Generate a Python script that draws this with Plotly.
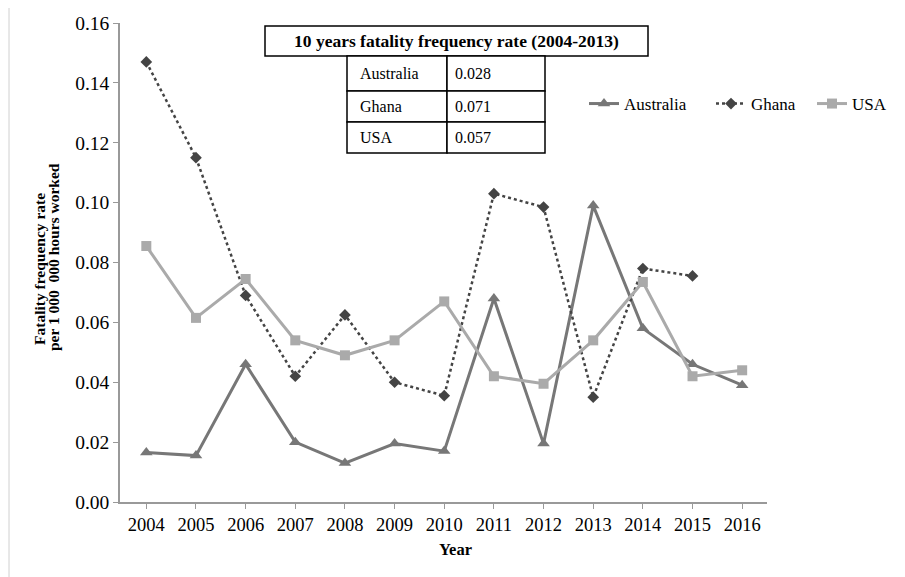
import plotly.graph_objects as go

years = [2004, 2005, 2006, 2007, 2008, 2009, 2010, 2011, 2012, 2013, 2014, 2015, 2016]
australia = [0.0165, 0.0155, 0.046, 0.020, 0.013, 0.0195, 0.017, 0.068, 0.0195, 0.099, 0.058, 0.046, 0.039]
ghana = [0.147, 0.115, 0.069, 0.042, 0.0625, 0.040, 0.0355, 0.103, 0.0985, 0.035, 0.078, 0.0755, None]
usa = [0.0855, 0.0615, 0.0745, 0.054, 0.049, 0.054, 0.067, 0.042, 0.0395, 0.054, 0.0735, 0.042, 0.044]

y_ticks = [0.00, 0.02, 0.04, 0.06, 0.08, 0.10, 0.12, 0.14, 0.16]

table_title = "10 years fatality frequency rate (2004-2013)"
table_countries = ["Australia", "Ghana", "USA"]
table_values = ["0.028", "0.071", "0.057"]

FONT = "Liberation Serif, Times New Roman, serif"

fig = go.Figure()
fig.add_trace(go.Scatter(x=years, y=australia, name="Australia", mode="lines+markers",
                         line=dict(color="#777777", width=3), legend="legend",
                         marker=dict(symbol="triangle-up", size=11, color="#777777")))
fig.add_trace(go.Scatter(x=years, y=ghana, name="Ghana", mode="lines+markers",
                         line=dict(color="#444444", width=2.5, dash="dot"), legend="legend2",
                         marker=dict(symbol="diamond", size=9, color="#444444")))
fig.add_trace(go.Scatter(x=years, y=usa, name="USA", mode="lines+markers",
                         line=dict(color="#aaaaaa", width=3), legend="legend3",
                         marker=dict(symbol="square", size=10, color="#aaaaaa")))

W, H = 905, 577
OFF = 8  # page body margin
L, R, T, B = 120, 767, 23, 502  # plot area in page pixels

def px(x):
    return (x - L) / (R - L)

def py(y):
    return (B - y) / (B - T)

shapes = []
annotations = []
# outer frame (left & top)
shapes.append(dict(type="line", xref="paper", yref="paper", x0=px(9), x1=px(9), y0=py(4), y1=py(600),
                   line=dict(color="#d0d0d0", width=1)))
shapes.append(dict(type="line", xref="paper", yref="paper", x0=px(9), x1=px(920), y0=py(4), y1=py(4),
                   line=dict(color="#d0d0d0", width=1)))
# table title box
shapes.append(dict(type="rect", xref="paper", yref="paper", x0=px(265), x1=px(648), y0=py(26), y1=py(56),
                   line=dict(color="black", width=1.5), fillcolor="white"))
annotations.append(dict(xref="paper", yref="paper", x=px(457), y=py(41), text="<b>" + table_title + "</b>",
                        showarrow=False, font=dict(family=FONT, size=17.5, color="black"),
                        xanchor="center", yanchor="middle"))
row_edges = [56, 91, 122, 153]
col_edges = [347, 447, 545]
for i in range(3):
    for j in range(2):
        shapes.append(dict(type="rect", xref="paper", yref="paper",
                           x0=px(col_edges[j]), x1=px(col_edges[j + 1]),
                           y0=py(row_edges[i]), y1=py(row_edges[i + 1]),
                           line=dict(color="black", width=1.5), fillcolor="white"))
    ymid = (row_edges[i] + row_edges[i + 1]) / 2
    annotations.append(dict(xref="paper", yref="paper", x=px(358), y=py(ymid), text=table_countries[i],
                            showarrow=False, font=dict(family=FONT, size=16, color="black"),
                            xanchor="left", yanchor="middle"))
    annotations.append(dict(xref="paper", yref="paper", x=px(453), y=py(ymid), text=table_values[i],
                            showarrow=False, font=dict(family=FONT, size=16, color="black"),
                            xanchor="left", yanchor="middle"))

# y-axis title (two tight lines)
annotations.append(dict(xref="paper", yref="paper", x=px(39), y=py(269), text="<b>Fatality frequency rate</b>",
                        textangle=-90, showarrow=False, font=dict(family=FONT, size=15.5, color="black"),
                        xanchor="center", yanchor="middle"))
annotations.append(dict(xref="paper", yref="paper", x=px(53), y=py(257), text="<b>per 1 000  000 hours worked</b>",
                        textangle=-90, showarrow=False, font=dict(family=FONT, size=15.5, color="black"),
                        xanchor="center", yanchor="middle"))
# x-axis title
annotations.append(dict(xref="paper", yref="paper", x=px(455), y=py(549), text="<b>Year</b>",
                        showarrow=False, font=dict(family=FONT, size=16.5, color="black"),
                        xanchor="center", yanchor="middle"))

leg_common = dict(orientation="h", yanchor="middle", xanchor="left", y=py(104),
                  font=dict(family=FONT, size=17, color="black"), bgcolor="rgba(0,0,0,0)")

fig.update_layout(
    width=W, height=H,
    margin=dict(l=L - OFF, r=W - (R - OFF), t=T - OFF, b=H - (B - OFF), autoexpand=False),
    plot_bgcolor="white", paper_bgcolor="white",
    font=dict(family=FONT, size=16, color="black"),
    showlegend=True,
    legend=dict(x=px(584), **leg_common),
    legend2=dict(x=px(711), **leg_common),
    legend3=dict(x=px(812), **leg_common),
    shapes=shapes,
    annotations=annotations,
    xaxis=dict(range=[2003.47, 2016.5], tickmode="array", tickvals=years,
               ticktext=[str(y) for y in years], showgrid=False, zeroline=False,
               showline=True, linecolor="#999999", linewidth=1.5,
               ticks="outside", ticklen=5, tickcolor="#999999",
               tickfont=dict(family=FONT, size=18.5, color="black")),
    yaxis=dict(range=[0, 0.16], tickmode="array", tickvals=y_ticks,
               ticktext=["%.2f" % v for v in y_ticks], showgrid=False, zeroline=False,
               showline=True, linecolor="#999999", linewidth=1.5,
               ticks="outside", ticklen=5, tickcolor="#999999",
               tickfont=dict(family=FONT, size=19.5, color="black")),
)

fig.write_html("out.html")
